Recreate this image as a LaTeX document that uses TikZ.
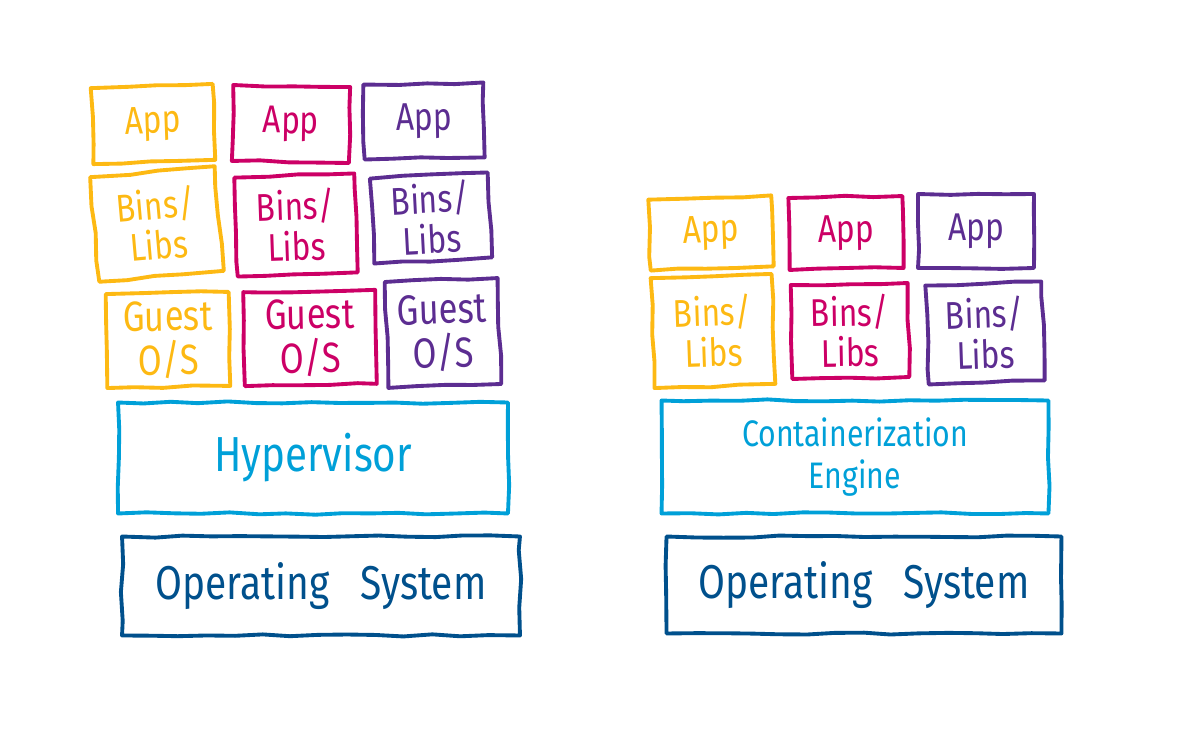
\documentclass[tikz,border=0pt]{standalone}
\usepackage{fontspec}
\setmainfont[FakeStretch=0.82]{Fira Sans}
\usetikzlibrary{decorations.pathmorphing}

\definecolor{appyellow}{HTML}{FDB913}
\definecolor{appmagenta}{HTML}{CC0066}
\definecolor{apppurple}{HTML}{5C2D91}
\definecolor{layerblue}{HTML}{00A0D8}
\definecolor{osblue}{HTML}{00508C}

\newcommand{\smalllbl}{\fontsize{22}{23}\selectfont}
\newcommand{\midlbl}{\fontsize{24}{25}\selectfont}
\newcommand{\biglbl}{\fontsize{27}{29}\selectfont}

\begin{document}
\pgfmathsetseed{7}
\begin{tikzpicture}[
		x=0.02cm,y=-0.02cm,
		box/.style={draw=#1,text=#1,line width=2.2pt,rectangle,align=center,inner sep=0pt,
			line join=round,line cap=round,
			decorate,decoration={random steps,segment length=16pt,amplitude=0.7pt}},
		yel/.style={box=appyellow},
		mag/.style={box=appmagenta},
		pur/.style={box=apppurple},
		layer/.style={box=layerblue},
		hostos/.style={box=osblue,font=\biglbl}
	]
		\useasboundingbox (0,0) rectangle (1198,729);

		% virtual machines: app / bins-libs / guest os per vm
		\node [yel,rotate=2,minimum width=2.44cm,minimum height=1.52cm,font=\smalllbl] (vm_app1) at (153,124) {App};
		\node [mag,rotate=-1,minimum width=2.34cm,minimum height=1.52cm,font=\smalllbl] (vm_app2) at (291,124) {App};
		\node [pur,rotate=1,minimum width=2.40cm,minimum height=1.50cm,font=\smalllbl] (vm_app3) at (424,121) {App};

		\node [yel,rotate=5,minimum width=2.50cm,minimum height=2.10cm,font=\smalllbl] (vm_libs1) at (157,224) {Bins/\\Libs};
		\node [mag,rotate=2,minimum width=2.40cm,minimum height=1.98cm,font=\smalllbl] (vm_libs2) at (296,225) {Bins/\\Libs};
		\node [pur,rotate=3,minimum width=2.36cm,minimum height=1.70cm,font=\smalllbl] (vm_libs3) at (431,218) {Bins/\\Libs};

		\node [yel,rotate=1,minimum width=2.46cm,minimum height=1.88cm,font=\midlbl] (vm_os1) at (168,340) {Guest\\O/S};
		\node [mag,rotate=1,minimum width=2.64cm,minimum height=1.88cm,font=\midlbl] (vm_os2) at (310,338) {Guest\\O/S};
		\node [pur,rotate=2,minimum width=2.26cm,minimum height=2.12cm,font=\midlbl] (vm_os3) at (443,333) {Guest\\O/S};

		\node [layer,minimum width=7.80cm,minimum height=2.22cm,font=\fontsize{28}{30}\selectfont] (hypervisor) at (313,458) {Hypervisor};
		\node [hostos,minimum width=7.96cm,minimum height=1.98cm] (host_os1) at (321,586) {Operating~~~System};

		% containers: app / bins-libs per container
		\node [yel,rotate=2,minimum width=2.46cm,minimum height=1.42cm,font=\smalllbl] (ct_app1) at (711,233) {App};
		\node [mag,rotate=1,minimum width=2.28cm,minimum height=1.44cm,font=\smalllbl] (ct_app2) at (846,233) {App};
		\node [pur,rotate=0,minimum width=2.32cm,minimum height=1.48cm,font=\smalllbl] (ct_app3) at (976,231) {App};

		\node [yel,rotate=2,minimum width=2.42cm,minimum height=2.20cm,font=\smalllbl] (ct_libs1) at (713,331) {Bins/\\Libs};
		\node [mag,rotate=1,minimum width=2.34cm,minimum height=1.88cm,font=\smalllbl] (ct_libs2) at (850,331) {Bins/\\Libs};
		\node [pur,rotate=2,minimum width=2.32cm,minimum height=1.98cm,font=\smalllbl] (ct_libs3) at (985,333) {Bins/\\Libs};

		\node [layer,minimum width=7.74cm,minimum height=2.26cm,font=\fontsize{21}{24}\selectfont] (engine) at (855,457) {Containerization\\Engine};
		\node [hostos,minimum width=7.90cm,minimum height=1.94cm] (host_os2) at (864,585) {Operating~~~System};
	\end{tikzpicture}
\end{document}
